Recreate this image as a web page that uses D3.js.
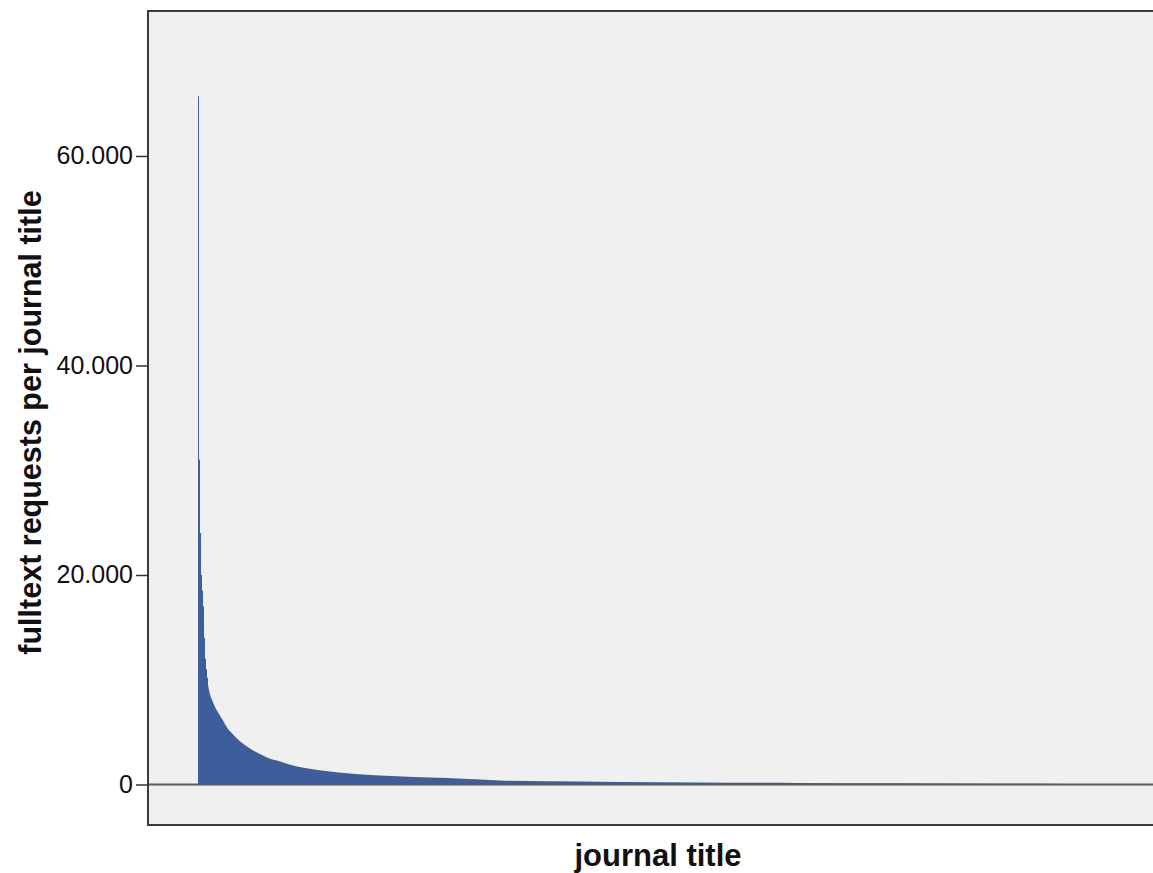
<!DOCTYPE html>
<html>
<head>
<meta charset="utf-8">
<script src="https://cdn.jsdelivr.net/npm/d3@7"></script>
<style>
  html, body { margin: 0; padding: 0; background: #ffffff; }
  svg { display: block; }
</style>
</head>
<body>
<svg id="chart" width="1153" height="873"></svg>
<script>
// Journal titles ranked by full-text requests (rank index along x, titles not labelled)
const titleRanks = [0, 1, 2, 3, 4, 5, 6, 7, 8, 9, 10, 12, 14, 17, 20, 25, 30, 34, 40, 49, 60, 69, 82, 99, 115, 132, 149, 165, 199, 232, 249, 282, 302, 350, 419, 500, 600, 700, 800, 872];
const requests   = [65700, 31000, 24000, 20000, 18500, 17000, 14000, 12000, 11000, 10200, 9500, 8600, 8100, 7400, 6900, 6100, 5300, 4900, 4300, 3625, 3000, 2575, 2190, 1717, 1450, 1240, 1080, 954, 780, 668, 620, 477, 380, 300, 250, 200, 150, 110, 70, 40];
const yTicks = [0, 20000, 40000, 60000];
const yTitle = "fulltext requests per journal title";
const xTitle = "journal title";

const svg = d3.select("#chart");
const pLeft = 148, pRight = 1166, pTop = 11, pBottom = 825;

const x = d3.scaleLinear().domain([-50, 968]).range([pLeft, pRight]);
const y = d3.scaleLinear().domain([-3866, 73840]).range([pBottom, pTop]);

// plot background
svg.append("rect")
  .attr("x", pLeft).attr("y", pTop)
  .attr("width", pRight - pLeft).attr("height", pBottom - pTop)
  .attr("fill", "#f0f0f0");

const pts = titleRanks.map((r, i) => ({ r, v: requests[i] }));
const splitRank = 10;
const headPts = pts.filter(d => d.r <= splitRank);   // top titles: one bar each
const tailPts = pts.filter(d => d.r >= splitRank);   // long tail: smooth outline

const areaStep = d3.area()
  .x(d => x(d.r))
  .y0(y(0))
  .y1(d => y(d.v))
  .curve(d3.curveStepAfter);

const areaSmooth = d3.area()
  .x(d => x(d.r))
  .y0(y(0))
  .y1(d => y(d.v))
  .curve(d3.curveMonotoneX);

svg.append("path")
  .datum(headPts)
  .attr("d", areaStep)
  .attr("fill", "#3d5e9b");

svg.append("path")
  .datum(tailPts)
  .attr("d", areaSmooth)
  .attr("fill", "#3d5e9b");

// zero reference line
svg.append("line")
  .attr("x1", pLeft).attr("x2", pRight)
  .attr("y1", y(0)).attr("y2", y(0))
  .attr("stroke", "#5a5a5a").attr("stroke-width", 2);

// frame
svg.append("rect")
  .attr("x", pLeft).attr("y", pTop)
  .attr("width", pRight - pLeft).attr("height", pBottom - pTop)
  .attr("fill", "none").attr("stroke", "#3a3a3a").attr("stroke-width", 2);

// y axis
const yAxis = d3.axisLeft(y)
  .tickValues(yTicks)
  .tickSize(12)
  .tickPadding(3)
  .tickFormat(d => d3.format(",")(d).replace(/,/g, "."));

const gy = svg.append("g")
  .attr("transform", `translate(${pLeft},0)`)
  .call(yAxis);
gy.select(".domain").remove();
gy.selectAll(".tick line").attr("stroke", "#333").attr("stroke-width", 1.5);
gy.selectAll(".tick text")
  .attr("fill", "#111")
  .style("font-family", "'Liberation Sans', Arial, sans-serif")
  .style("font-size", "25px");

// axis titles
svg.append("text")
  .attr("transform", `translate(41,${(185 + 660) / 2}) rotate(-90)`)
  .attr("text-anchor", "middle")
  .style("font-family", "'Liberation Sans', Arial, sans-serif")
  .style("font-weight", "bold")
  .style("font-size", "30.5px")
  .attr("fill", "#111")
  .text(yTitle);

svg.append("text")
  .attr("x", 658).attr("y", 866)
  .attr("text-anchor", "middle")
  .style("font-family", "'Liberation Sans', Arial, sans-serif")
  .style("font-weight", "bold")
  .style("font-size", "31px")
  .attr("fill", "#111")
  .text(xTitle);
</script>
</body>
</html>
